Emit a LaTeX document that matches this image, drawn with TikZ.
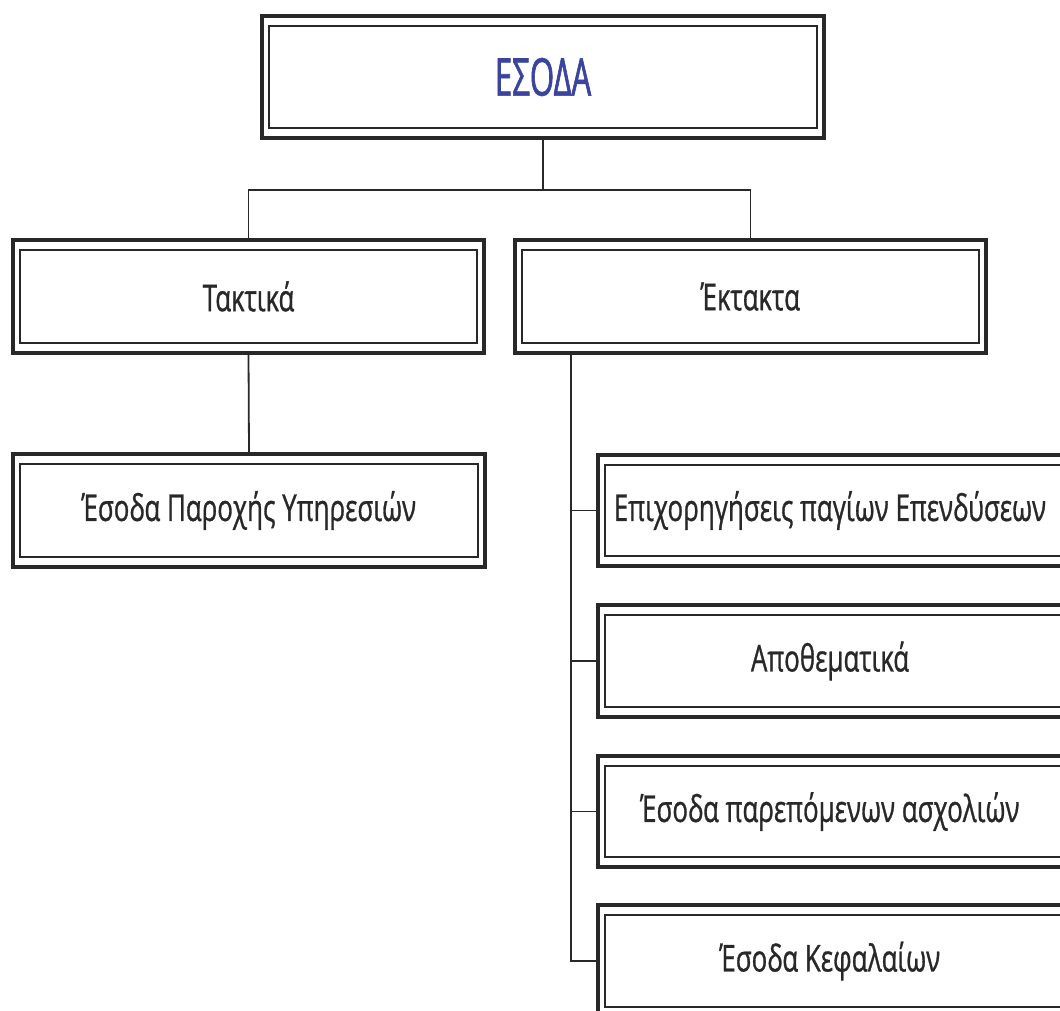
\documentclass[tikz,border=0pt]{standalone}
\usepackage{fontspec}
\usetikzlibrary{calc}
\setmainfont{Open Sans}
\newfontfamily\boxfont[FakeStretch=0.7,FakeBold=0.8]{Open Sans}
\newfontfamily\titlefont[FakeStretch=0.6,FakeBold=1.2]{Open Sans}
\definecolor{titleblue}{RGB}{58,68,158}
\definecolor{ink}{RGB}{40,40,40}
\tikzset{
  dbox/.style={rectangle, draw=ink, line width=4pt, inner sep=0pt, outer sep=0pt, fill=white,
    text=ink, font=\boxfont\fontsize{37}{44}\selectfont},
  innerline/.style={draw=ink, line width=1.8pt},
  conn/.style={draw=ink, line width=1.8pt}
}
\begin{document}
\begin{tikzpicture}[x=1pt,y=-1pt]
\useasboundingbox (0,0) rectangle (1060,1011);
\clip (0,0) rectangle (1060,1011);
\fill[white] (0,0) rectangle (1060,1011);
% nodes
\node[dbox, minimum width=562pt, minimum height=122pt, text=titleblue,
      font=\titlefont\fontsize{52}{60}\selectfont] (top) at (543,77) {ΕΣΟΔΑ};
\node[dbox, minimum width=471pt, minimum height=113pt] (tak) at (248.5,296.5) {Τακτικά};
\node[dbox, minimum width=471pt, minimum height=113pt] (ekt) at (750.5,296.5) {Έκτακτα};
\node[dbox, minimum width=472pt, minimum height=113pt] (yp) at (249,510.5) {Έσοδα Παροχής Υπηρεσιών};
\node[dbox, minimum width=484pt, minimum height=111pt] (r1) at (840,510.5) {Επιχορηγήσεις παγίων Επενδύσεων\hspace*{20pt}};
\node[dbox, minimum width=484pt, minimum height=112pt] (r2) at (840,661) {Αποθεματικά\hspace*{20pt}};
\node[dbox, minimum width=484pt, minimum height=111pt] (r3) at (840,811.5) {Έσοδα παρεπόμενων ασχολιών\hspace*{20pt}};
\node[dbox, minimum width=484pt, minimum height=112pt] (r4) at (840,961) {Έσοδα Κεφαλαίων\hspace*{20pt}};
% inner borders
\foreach \n in {top,tak,ekt,yp,r1,r2,r3,r4}{
  \draw[innerline] ([shift={(7pt,-10pt)}]\n.north west) rectangle ([shift={(-7pt,10pt)}]\n.south east);
}
% connectors
\coordinate (bus) at ($(top.south)+(0,52)$);
\draw[conn] (top.south) -- (bus);
\draw[conn] (tak.north) |- (bus) -| (ekt.north);
\draw[conn] (tak.south) -- (yp.north);
\coordinate (trunk) at ([xshift=56pt]ekt.south west);
\draw[conn] (trunk) |- (r4.west);
\draw[conn] (trunk |- r1.west) -- (r1.west);
\draw[conn] (trunk |- r2.west) -- (r2.west);
\draw[conn] (trunk |- r3.west) -- (r3.west);
\end{tikzpicture}
\end{document}
